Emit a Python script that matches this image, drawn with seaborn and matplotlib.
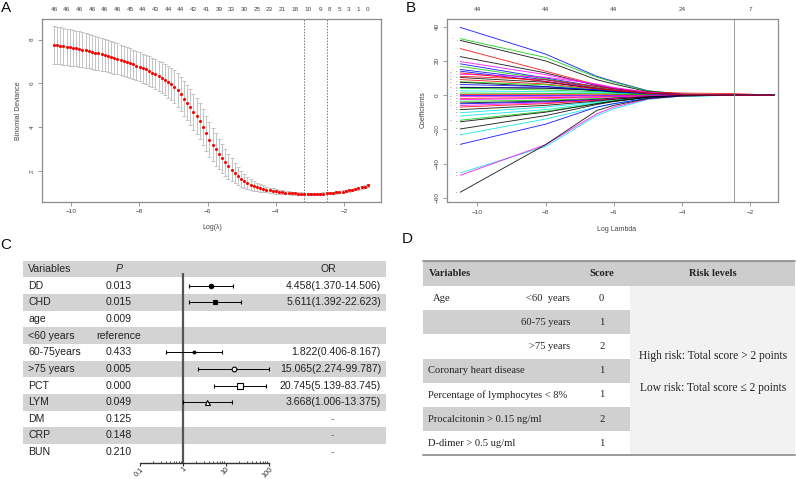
import numpy as np
import pandas as pd
import matplotlib
matplotlib.use("Agg")
import matplotlib.pyplot as plt
from matplotlib.patches import Rectangle
from matplotlib.ticker import FixedLocator, NullFormatter
import seaborn as sns

W, H = 796, 479

# ---- A: cross-validated binomial deviance (cv.glmnet) ----
cv_mean = [7.76, 7.74, 7.72, 7.70, 7.67, 7.65, 7.63, 7.60, 7.57, 7.54,
           7.51, 7.47, 7.44, 7.40, 7.37, 7.33, 7.30, 7.26, 7.22, 7.17,
           7.13, 7.08, 7.04, 6.99, 6.93, 6.88, 6.82, 6.77, 6.70, 6.64,
           6.57, 6.50, 6.43, 6.35, 6.26, 6.17, 6.07, 5.97, 5.86, 5.71,
           5.50, 5.31, 5.12, 4.92, 4.71, 4.50, 4.28, 4.03, 3.72, 3.43,
           3.21, 2.99, 2.78, 2.59, 2.40, 2.22, 2.06, 1.90, 1.76, 1.64,
           1.54, 1.45, 1.38, 1.32, 1.27, 1.23, 1.19, 1.15, 1.12, 1.09,
           1.07, 1.05, 1.03, 1.01, 1.00, 0.99, 0.98, 0.97, 0.96, 0.96,
           0.95, 0.95, 0.95, 0.96, 0.96, 0.97, 0.98, 0.99, 1.01, 1.02,
           1.04, 1.06, 1.08, 1.11, 1.14, 1.17, 1.21, 1.25, 1.29, 1.34]
cv_se = [0.86, 0.85, 0.85, 0.84, 0.83, 0.83, 0.82, 0.81, 0.81, 0.80,
         0.79, 0.78, 0.77, 0.77, 0.76, 0.75, 0.74, 0.73, 0.72, 0.72,
         0.71, 0.70, 0.69, 0.68, 0.68, 0.67, 0.66, 0.66, 0.66, 0.66,
         0.67, 0.67, 0.68, 0.69, 0.70, 0.71, 0.72, 0.74, 0.75, 0.77,
         0.78, 0.80, 0.81, 0.82, 0.83, 0.83, 0.83, 0.82, 0.81, 0.79,
         0.77, 0.74, 0.70, 0.66, 0.62, 0.57, 0.52, 0.47, 0.42, 0.37,
         0.33, 0.29, 0.25, 0.22, 0.19, 0.17, 0.15, 0.13, 0.12, 0.11,
         0.10, 0.09, 0.08, 0.08, 0.07, 0.07, 0.06, 0.06, 0.06, 0.05,
         0.05, 0.05, 0.05, 0.05, 0.05, 0.05, 0.05, 0.05, 0.05, 0.05,
         0.05, 0.05, 0.05, 0.05, 0.05, 0.06, 0.06, 0.06, 0.06, 0.06]
cv_loglam = np.linspace(-10.5, -1.3, len(cv_mean))
cv_nzero = [46, 46, 46, 46, 46, 46, 45, 44, 43, 44, 44, 42, 41, 39,
            33, 30, 25, 23, 21, 18, 10, 9, 8, 5, 3, 1, 0]
cv_nzero_idx = [0, 4, 8, 12, 16, 20, 24, 28, 32, 36, 40, 44, 48, 52,
                56, 60, 64, 68, 72, 76, 80, 84, 87, 90, 93, 96, 99]
cv_lambda_lines = [-3.18, -2.49]

# ---- B: coefficient paths (glmnet) ----
path_knots = [-10.5, -8, -6.5, -6, -5, -4, -2.5, -1.3]
path_colors = ["blue", "green3", "black", "red", "black", "magenta", "blue",
               "green3", "blue", "blue", "magenta", "red", "black", "red",
               "green3", "black", "blue", "black", "green3", "cyan", "red",
               "blue", "magenta", "red", "green3", "black", "blue", "magenta",
               "red", "cyan", "cyan", "green3", "black", "black", "cyan",
               "blue", "cyan", "magenta", "black", "green3", "magenta",
               "blue", "black", "red"]
path_coefs = [
    [39.6, 24, 11, 8, 2.5, 0.5, 0.2, 0],
    [33, 22, 10.5, 7.5, 2.5, 0.6, 0.2, 0],
    [32, 20, 9, 6.5, 2, 0.5, 0.1, 0],
    [27.2, 14, 6, 4, 1.8, 1.2, 0.9, 0],
    [22.5, 13, 5.5, 3.8, 1.2, 0.3, 0, 0],
    [19.6, 12, 6, 4, 1.5, 0.4, 0.1, 0],
    [18.3, 10, 5, 3.5, 1.2, 0.3, 0, 0],
    [16.8, 9.5, 4.5, 3, 1, 0.2, 0, 0],
    [15, 9, 4, 2.8, 1, 0.3, 0, 0],
    [14, 8, 3.5, 2.5, 0.8, 0.2, 0, 0],
    [12.2, 10.5, 6.5, 4.5, 1.5, 0.3, 0, 0],
    [11, 9, 5, 3.5, 1.2, 0.3, 0, 0],
    [10.3, 7.5, 4, 2.8, 1, 0.2, 0, 0],
    [9.1, 6.5, 3.5, 2.5, 0.8, 0.2, 0, 0],
    [7.8, 6, 3, 2, 0.6, 0.1, 0, 0],
    [7.5, 5, 2.5, 1.8, 0.5, 0.1, 0, 0],
    [4.6, 4.2, 3, 2, 0.8, 0.3, 0.1, 0],
    [4.4, 4, 2.8, 2, 0.8, 0.2, 0, 0],
    [4, 3, 2, 1.5, 0.5, 0.1, 0, 0],
    [2.5, 2, 1.5, 1, 0.4, 0.1, 0, 0],
    [0.4, 0.5, 0.5, 0.4, 0.2, 0.1, 0, 0],
    [-0.2, -0.3, -0.3, -0.2, -0.1, 0, 0, 0],
    [-0.8, -0.7, -0.5, -0.4, -0.2, 0, 0, 0],
    [-1.9, -1.5, -1, -0.8, -0.3, 0, 0, 0],
    [-3.6, -3, -2, -1.5, -0.6, -0.1, 0, 0],
    [-4.6, -3.5, -2.5, -1.8, -0.8, -0.2, 0, 0],
    [-5.1, -4, -2.8, -2, -0.9, -0.2, 0, 0],
    [-6.1, -4.5, -3, -2.2, -0.9, -0.2, 0, 0],
    [-7, -5, -3, -2.2, -0.8, -0.2, 0, 0],
    [-10.3, -7, -4, -3, -1.5, -0.5, -0.1, 0],
    [-12.2, -8.5, -4.5, -3.3, -1.5, -0.5, -0.2, 0],
    [-14.7, -9.5, -5, -3.5, -1.2, -0.3, 0, 0],
    [-15.6, -10, -5, -3.5, -1.2, -0.3, 0, 0],
    [-19.8, -12, -5.5, -3.8, -1.3, -0.3, 0, 0],
    [-23.2, -14, -7, -5, -2, -0.6, -0.1, 0],
    [-28.8, -17, -7, -5, -1.8, -0.4, 0, 0],
    [-45.5, -30, -12, -8, -2.5, -0.6, 0, 0],
    [-46.9, -29, -11, -7, -2.2, -0.5, 0, 0],
    [-56.8, -29, -9, -6, -2, -0.5, 0, 0],
    [1.2, 1, 0.8, 0.6, 0.3, 0.1, 0, 0],
    [-2.6, -2, -1.4, -1, -0.4, -0.1, 0, 0],
    [6.2, 5, 3, 2, 0.7, 0.2, 0, 0],
    [-8.5, -6, -3.5, -2.5, -1, -0.2, 0, 0],
    [13, 8, 4, 2.8, 1, 0.2, 0, 0],
]
path_top_at = [-10, -8, -6, -4, -2]
path_top_labels = ["44", "44", "44", "24", "7"]
path_lambda_line = -2.47

# ---- C: multivariable logistic regression ----
c_vars = ["DD", "CHD", "age", "<60 years", "60-75years", ">75 years",
          "PCT", "LYM", "DM", "CRP", "BUN"]
c_p = ["0.013", "0.015", "0.009", "reference", "0.433", "0.005",
       "0.000", "0.049", "0.125", "0.148", "0.210"]
c_or_text = ["4.458(1.370-14.506)", "5.611(1.392-22.623)", "", "",
             "1.822(0.406-8.167)", "15.065(2.274-99.787)",
             "20.745(5.139-83.745)", "3.668(1.006-13.375)", "-", "-", "-"]
c_or = [4.458, 5.611, None, None, 1.822, 15.065, 20.745, 3.668, None, None, None]
c_lo = [1.370, 1.392, None, None, 0.406, 2.274, 5.139, 1.006, None, None, None]
c_hi = [14.506, 22.623, None, None, 8.167, 99.787, 83.745, 13.375, None, None, None]
c_marker = ["o", "s", None, None, "o", "o", "s", "^", None, None, None]
c_filled = [True, True, None, None, True, False, False, False, None, None, None]
c_msize = [3.2, 3.4, None, None, 2.0, 3.4, 3.8, 3.6, None, None, None]

# ---- D: risk score ----
d_left = ["Age", "", "", "Coronary heart disease",
          "Percentage of lymphocytes < 8%", "Procalcitonin > 0.15 ng/ml",
          "D-dimer > 0.5 ug/ml"]
d_sub = ["<60  years", "60-75 years", ">75 years", "", "", "", ""]
d_score = ["0", "1", "2", "1", "1", "2", "1"]
d_risk = ["High risk: Total score > 2 points", "Low risk: Total score \u2264 2 points"]

sns.set_theme(style="ticks")
plt.rcParams["font.family"] = ["Liberation Sans", "DejaVu Sans"]
SERIF = ["Liberation Serif", "DejaVu Serif"]
R_COL = {"black": "#000000", "red": "#ff0000", "green3": "#00cd00",
         "blue": "#0000ff", "cyan": "#00e5e5", "magenta": "#ff00ff"}

fig = plt.figure(figsize=(W / 100, H / 100), dpi=100)


def px_axes(x0, y0, x1, y1):
    return fig.add_axes([x0 / W, 1 - y1 / H, (x1 - x0) / W, (y1 - y0) / H])


bg = px_axes(0, 0, W, H)
bg.set_xlim(0, W)
bg.set_ylim(H, 0)
bg.axis("off")


def r_style(ax):
    for s in ax.spines.values():
        s.set_color("#8c8c8c")
        s.set_linewidth(0.9)
    ax.tick_params(axis="both", length=3, width=0.6, color="#8c8c8c",
                   labelsize=4.6, labelcolor="#444444", pad=2.2)
    for lab in ax.get_yticklabels():
        lab.set_rotation(90)
        lab.set_va("center")
    ax.grid(False)


# ---------------- panel A ----------------
axA = px_axes(42, 19, 381, 202)
axA.errorbar(cv_loglam, cv_mean, yerr=cv_se, fmt="none", ecolor="#c4c4c4",
             elinewidth=0.7, capsize=1.6, capthick=0.7)
sns.scatterplot(x=cv_loglam, y=cv_mean, color="red", s=5, linewidth=0,
                ax=axA, zorder=3)
for v in cv_lambda_lines:
    axA.axvline(v, color="#777777", lw=0.7, ls=(0, (1.5, 1.5)))
axA.set_xlim(-10.85, -0.916)
axA.set_ylim(0.583, 8.946)
axA.set_xticks([-10, -8, -6, -4, -2])
axA.set_yticks([2, 4, 6, 8])
r_style(axA)
topA = axA.secondary_xaxis("top")
topA.set_xticks([cv_loglam[i] for i in cv_nzero_idx],
                labels=[str(n) for n in cv_nzero])
topA.tick_params(length=0, labelsize=4.6, labelcolor="#444444", pad=5)
topA.spines["top"].set_visible(False)
bg.text(212, 227, "Log(\u03bb)", fontsize=5, color="#444444", ha="center", va="center")
bg.text(18.3, 111, "Binomial Deviance", fontsize=5, color="#444444",
        ha="center", va="center", rotation=90)

# ---------------- panel B ----------------
axB = px_axes(446.7, 19.3, 777.7, 202.3)
rows = []
for j, coefs in enumerate(path_coefs):
    for k, c in zip(path_knots, coefs):
        rows.append({"var": f"v{j + 1}", "loglam": k, "coef": c})
path_df = pd.DataFrame(rows)
pal = {f"v{j + 1}": R_COL[c] for j, c in enumerate(path_colors)}
sns.lineplot(data=path_df, x="loglam", y="coef", hue="var", palette=pal,
             estimator=None, sort=False, legend=False, lw=0.65, alpha=0.85, ax=axB)
# tiny variable numbers at the left end of each path, staggered where crowded
starts = sorted(range(len(path_coefs)), key=lambda j: path_coefs[j][0])
prev = None
shift = 0
for j in starts:
    y0 = path_coefs[j][0]
    shift = (shift + 1) % 2 if prev is not None and abs(y0 - prev) < 1.3 else 0
    axB.text(path_knots[0] - 0.06 - 0.16 * shift, y0, str(j + 1), fontsize=1.6,
             color="#666666", ha="right", va="center")
    prev = y0
axB.axvline(path_lambda_line, color="#9a9a9a", lw=0.7)
axB.set_xlim(-10.897, -1.197)
axB.set_ylim(-62.69, 44.33)
axB.set_xticks([-10, -8, -6, -4, -2])
axB.set_yticks([-60, -40, -20, 0, 20, 40])
axB.set_xlabel("")
axB.set_ylabel("")
r_style(axB)
topB = axB.secondary_xaxis("top")
topB.set_xticks(path_top_at, labels=path_top_labels)
topB.tick_params(length=0, labelsize=4.6, labelcolor="#444444", pad=5)
topB.spines["top"].set_visible(False)
bg.text(616.7, 229, "Log Lambda", fontsize=5, color="#444444", ha="center", va="center")
bg.text(423.3, 110, "Coefficients", fontsize=5, color="#444444",
        ha="center", va="center", rotation=90)

# ---------------- panel C ----------------
c_top, c_step = 269.0, 16.65
c_font = 7.6
for i in range(len(c_vars) + 1):
    yc = c_top + c_step * i
    if i % 2 == 0:
        bg.add_patch(Rectangle((22.7, yc - c_step / 2), 363, c_step,
                               facecolor="#d3d3d3", edgecolor="none"))
bg.text(28.3, c_top, "Variables", fontsize=c_font, color="#222222", va="center")
bg.text(119, c_top, "P", fontsize=c_font, color="#222222", va="center",
        ha="center", style="italic")
bg.text(328, c_top, "OR", fontsize=c_font, color="#222222", va="center", ha="center")
for i, (v, p, ort) in enumerate(zip(c_vars, c_p, c_or_text)):
    yc = c_top + c_step * (i + 1)
    bg.text(28.3, yc, v, fontsize=c_font, color="#222222", va="center")
    bg.text(119, yc, p, fontsize=c_font, color="#222222", va="center", ha="center")
    if ort == "-":
        bg.text(332.7, yc, ort, fontsize=c_font, color="#666666", va="center", ha="center")
    elif ort:
        bg.text(381, yc, ort, fontsize=c_font, color="#222222", va="center", ha="right")

axC = px_axes(140, 260.7, 269.3, 462.7)
axC.patch.set_alpha(0)
axC.set_xscale("log")
axC.set_xlim(0.1, 100)
y_bottom = (462.7 - c_top) / c_step
axC.set_ylim(y_bottom, -0.5)
axC.plot([1, 1], [(273.3 - c_top) / c_step, y_bottom], color="#555555", lw=1.6,
         solid_capstyle="butt")
for i in range(len(c_vars)):
    if c_or[i] is None:
        continue
    yv = i + 1
    axC.errorbar([c_or[i]], [yv], xerr=[[c_or[i] - c_lo[i]], [c_hi[i] - c_or[i]]],
                 fmt=c_marker[i], color="black", ms=c_msize[i], mew=0.8,
                 mfc="black" if c_filled[i] else "white",
                 elinewidth=0.7, capsize=1.4, capthick=0.7)
for s in ["top", "left", "right"]:
    axC.spines[s].set_visible(False)
axC.spines["bottom"].set_color("#333333")
axC.spines["bottom"].set_linewidth(1.0)
axC.set_yticks([])
axC.xaxis.set_major_locator(FixedLocator([0.1, 1, 10, 100]))
axC.xaxis.set_minor_locator(FixedLocator(
    [m * d for d in [0.1, 1, 10] for m in range(2, 10)]))
axC.xaxis.set_minor_formatter(NullFormatter())
axC.set_xticklabels(["0.1", "1", "10", "100"], rotation=45, ha="right",
                    rotation_mode="anchor")
axC.tick_params(axis="x", which="major", length=2, width=0.8, color="#333333",
                direction="out", labelsize=5.3, labelcolor="#333333", pad=0.3)
axC.tick_params(axis="x", which="minor", length=1.6, width=0.6, color="#333333",
                direction="in")
axC.grid(False)

# ---------------- panel D ----------------
d_top, d_head, d_step = 261.0, 25.0, 24.2
d_x0, d_x1, d_split = 423.3, 795.0, 630.0
d_font = 7.6
bg.add_patch(Rectangle((d_x0, d_top), d_x1 - d_x0, d_head,
                       facecolor="#cdcdcd", edgecolor="none"))
body_top = d_top + d_head
body_bot = body_top + d_step * len(d_score)
bg.add_patch(Rectangle((d_split, body_top), d_x1 - d_split, body_bot - body_top,
                       facecolor="#f2f2f2", edgecolor="none"))
for i in range(len(d_score)):
    if i % 2 == 1:
        bg.add_patch(Rectangle((d_x0, body_top + d_step * i), d_split - d_x0, d_step,
                               facecolor="#d0d0d0", edgecolor="none"))
bg.plot([d_x0, d_x1], [d_top, d_top], color="#8a8a8a", lw=1.2)
bg.plot([d_x0, d_x1], [body_bot, body_bot], color="#9a9a9a", lw=1.4)
hy = d_top + d_head / 2
bg.text(429.3, hy, "Variables", fontsize=d_font, family=SERIF, weight="bold",
        color="#222222", va="center")
bg.text(601.7, hy, "Score", fontsize=d_font, family=SERIF, weight="bold",
        color="#222222", va="center", ha="center")
bg.text(712.7, hy, "Risk levels", fontsize=d_font, family=SERIF, weight="bold",
        color="#222222", va="center", ha="center")
for i, (lt, st, sc) in enumerate(zip(d_left, d_sub, d_score)):
    yc = body_top + d_step * (i + 0.5)
    lx = 433.3 if lt == "Age" else 428.3
    if lt:
        bg.text(lx, yc, lt, fontsize=d_font, family=SERIF, color="#222222", va="center")
    if st:
        bg.text(570, yc, st, fontsize=d_font, family=SERIF, color="#222222",
                va="center", ha="right")
    bg.text(601.7, yc, sc, fontsize=d_font, family=SERIF, color="#222222",
            va="center", ha="center")
for yv, txt in zip([355.7, 387.7], d_risk):
    bg.text(712.7, yv, txt, fontsize=8.3, family=SERIF, color="#222222",
            va="center", ha="center")

# ---------------- panel letters ----------------
for x, y, lab in [(1, 8, "A"), (406, 8, "B"), (0.5, 245, "C"), (401.5, 239, "D")]:
    bg.text(x, y, lab, fontsize=11, color="#111111", va="center", ha="left")

fig.savefig("out.png", dpi=100)
